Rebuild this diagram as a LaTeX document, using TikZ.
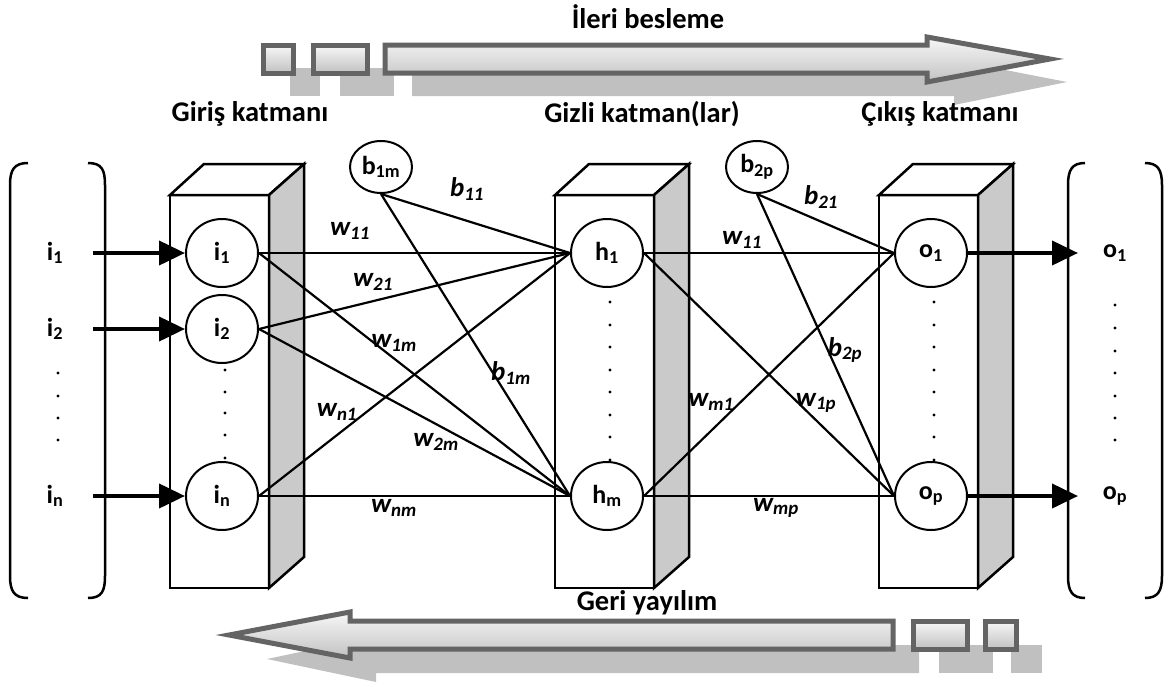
\documentclass[tikz,border=0pt]{standalone}
\usepackage{fontspec}
\setmainfont{Carlito}
\usetikzlibrary{shapes.geometric,arrows.meta}

\definecolor{flowedge}{HTML}{646464}
\definecolor{flowshade}{HTML}{C0C0C0}
\definecolor{sidegray}{HTML}{CACACA}

\newcommand{\lsub}[1]{\textsubscript{#1}}

% one layer drawn as a box: front face, top face and shaded right face
\newcommand{\layerbox}[1]{%
  \draw[layerface] (#1,195) rectangle ({#1+99},588);
  \draw[layerface] (#1,195) -- ({#1+34},164) -- ({#1+134},164) -- ({#1+99},195) -- cycle;
  \draw[sideface] ({#1+99},195) -- ({#1+134},164) -- ({#1+134},557) -- ({#1+99},588) -- cycle;
}

\tikzset{
  every node/.style={font=\fontsize{26}{30}\selectfont\bfseries},
  neuron/.style={ellipse, draw, line width=2pt, fill=white,
    minimum width=72pt, minimum height=68pt, inner sep=0pt},
  bias/.style={ellipse, draw, line width=2pt, fill=white,
    minimum width=62pt, minimum height=52pt, inner sep=0pt},
  link/.style={line width=2.2pt},
  feed/.style={line width=4pt, -{Triangle[length=26pt,width=24pt]}},
  layerface/.style={draw, line width=2.5pt, fill=white, line join=miter},
  sideface/.style={draw, line width=2.5pt, fill=sidegray, line join=miter},
  wlabel/.style={font=\fontsize{27}{31}\selectfont\bfseries\itshape},
  header/.style={font=\fontsize{28.5}{33}\selectfont\bfseries},
  bracket/.style={line width=2.5pt},
  flowbox/.style={draw=flowedge, line width=5pt, top color=gray!6,
    bottom color=gray!48, line join=miter},
  flowshadow/.style={fill=flowshade},
}

\begin{document}
\begin{tikzpicture}[x=1pt,y=-1pt]
\useasboundingbox (0,0) rectangle (1168,686);

% ---- forward pass arrow (top) ----
\begin{scope}[shift={(27,23)}]
  \fill[flowshadow] (263,45) rectangle (293,73);
  \fill[flowshadow] (313,45) rectangle (367,73);
  \fill[flowshadow] (385,45) -- (927,45) -- (927,37) -- (1040,59) -- (927,82) -- (927,73) -- (385,73) -- cycle;
\end{scope}
\draw[flowbox] (263,45) rectangle (293,73);
\draw[flowbox] (313,45) rectangle (367,73);
\draw[flowbox] (385,45) -- (927,45) -- (927,37) -- (1050,59) -- (927,82) -- (927,73) -- (385,73) -- cycle;
\node[header] (fwd) at (648,17) {İleri besleme};

% ---- backward pass arrow (bottom) ----
\begin{scope}[shift={(26,24)}]
  \fill[flowshadow] (913,621) rectangle (967,649);
  \fill[flowshadow] (985,621) rectangle (1016,649);
  \fill[flowshadow] (893,621) -- (350,621) -- (350,612) -- (241,635) -- (350,658) -- (350,649) -- (893,649) -- cycle;
\end{scope}
\draw[flowbox] (913,621) rectangle (967,649);
\draw[flowbox] (985,621) rectangle (1016,649);
\draw[flowbox] (893,621) -- (350,621) -- (350,612) -- (229,635) -- (350,658) -- (350,649) -- (893,649) -- cycle;
\node[header] (bwd) at (647,603) {Geri yayılım};

% ---- layer headers ----
\node[header] (hin) at (250,114) {Giriş katmanı};
\node[header] (hhid) at (642,114) {Gizli katman(lar)};
\node[header] (hout) at (940,114) {Çıkış katmanı};

% ---- input vector bracket ----
\draw[bracket] (28,163) .. controls (14,163) and (10,170) .. (10,185) -- (10,576)
  .. controls (10,591) and (14,598) .. (28,598);
\draw[bracket] (88,163) .. controls (102,163) and (105,170) .. (105,185) -- (105,576)
  .. controls (105,591) and (102,598) .. (88,598);
\node (xi1) at (55,253) {i\lsub{1}};
\node (xi2) at (55,329) {i\lsub{2}};
\node (xin) at (55,496) {i\lsub{n}};
\foreach \y in {373,396,418,440} \fill (58,\y) circle (1.7pt);

% ---- output vector bracket ----
\draw[bracket] (1085,163) .. controls (1072,163) and (1068,170) .. (1068,185) -- (1068,576)
  .. controls (1068,591) and (1072,598) .. (1085,598);
\draw[bracket] (1145,163) .. controls (1158,163) and (1162,170) .. (1162,185) -- (1162,576)
  .. controls (1162,591) and (1158,598) .. (1145,598);
\node (xo1) at (1115,253) {o\lsub{1}};
\node (xop) at (1115,496) {o\lsub{p}};
\foreach \y in {305,328,351,373,396,418,440} \fill (1115,\y) circle (1.7pt);

% ---- layer boxes ----
\layerbox{170}
\layerbox{555}
\layerbox{879}

\foreach \y in {370,392,413,435,458} \fill (225,\y) circle (1.7pt);
\foreach \y in {302,325,347,370,392,415,437,460} \fill (610,\y) circle (1.7pt);
\foreach \y in {302,325,347,370,392,415,437,460} \fill (934,\y) circle (1.7pt);

% ---- neurons ----
\node[neuron] (i1) at (222,253) {i\lsub{1}};
\node[neuron] (i2) at (222,329) {i\lsub{2}};
\node[neuron] (in) at (222,496) {i\lsub{n}};
\node[neuron] (h1) at (607,253) {h\lsub{1}};
\node[neuron] (hm) at (607,496) {h\lsub{m}};
\node[neuron] (o1) at (931,253) {o\lsub{1}};
\node[neuron] (op) at (931,496) {o\lsub{p}};
\node[bias] (b1m) at (381,167) {b\lsub{1m}};
\node[bias] (b2p) at (757,167) {b\lsub{2p}};

% ---- inputs and outputs ----
\coordinate (src1) at (93,253);
\coordinate (src2) at (93,329);
\coordinate (srcn) at (93,496);
\coordinate (dst1) at (1078,253);
\coordinate (dstp) at (1078,496);
\draw[feed] (src1) -- (i1);
\draw[feed] (src2) -- (i2);
\draw[feed] (srcn) -- (in);
\draw[feed] (o1) -- (dst1);
\draw[feed] (op) -- (dstp);

% ---- weighted connections ----
\foreach \s in {i1,i2,in} {
  \draw[link] (\s.east) -- (h1.west);
  \draw[link] (\s.east) -- (hm.west);
}
\draw[link] (b1m.south) -- (h1.west);
\draw[link] (b1m.south) -- (hm.west);
\foreach \s in {h1,hm} {
  \draw[link] (\s.east) -- (o1.west);
  \draw[link] (\s.east) -- (op.west);
}
\draw[link] (b2p.south) -- (o1.west);
\draw[link] (b2p.south) -- (op.west);

% ---- weight labels ----
\node[wlabel] (lw11a) at (350,231) {w\lsub{11}};
\node[wlabel] (lw21) at (373,282) {w\lsub{21}};
\node[wlabel] (lw1m) at (394,343) {w\lsub{1m}};
\node[wlabel] (lwn1) at (337,412) {w\lsub{n1}};
\node[wlabel] (lw2m) at (436,442) {w\lsub{2m}};
\node[wlabel] (lwnm) at (394,508) {w\lsub{nm}};
\node[wlabel] (lb11) at (467,189) {b\lsub{11}};
\node[wlabel] (lb1m) at (511,373) {b\lsub{1m}};
\node[wlabel] (lw11b) at (742,240) {w\lsub{11}};
\node[wlabel] (lb21) at (821,197) {b\lsub{21}};
\node[wlabel] (lb2p) at (845,350) {b\lsub{2p}};
\node[wlabel] (lwm1) at (711,402) {w\lsub{m1}};
\node[wlabel] (lw1p) at (816,403) {w\lsub{1p}};
\node[wlabel] (lwmp) at (776,508) {w\lsub{mp}};
\end{tikzpicture}
\end{document}
